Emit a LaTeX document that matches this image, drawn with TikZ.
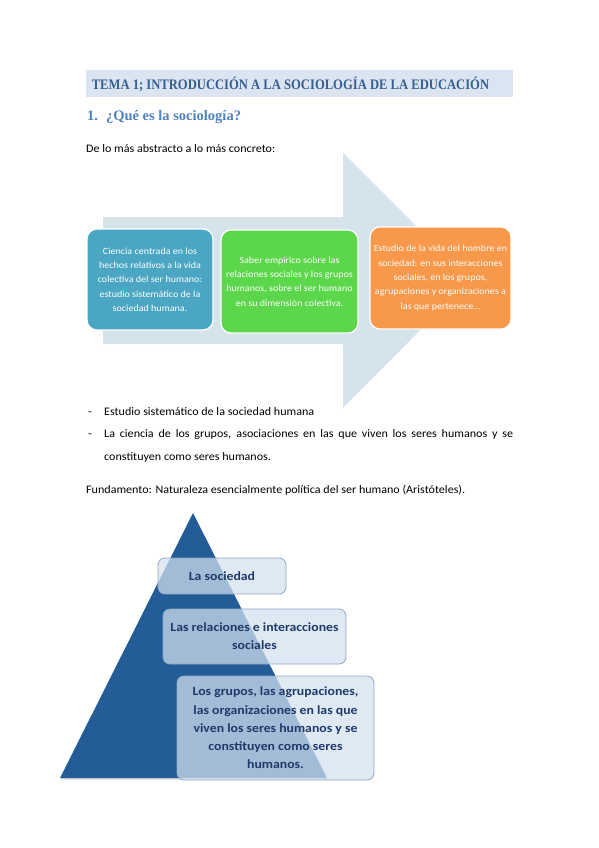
\documentclass[tikz,border=0pt]{standalone}
\usepackage{fontspec}
\setmainfont{Carlito}[FakeStretch=1.05]
\newfontfamily\flowfont{Carlito}[FakeStretch=1.07]
\newfontfamily\levelfont{Carlito}[FakeStretch=1.1]
\newfontfamily\headfont{Liberation Serif}
\usetikzlibrary{shadows}
\definecolor{titlebar}{HTML}{DBE5F1}
\definecolor{titletext}{HTML}{365F91}
\definecolor{headblue}{HTML}{4F81BD}
\definecolor{arrowfill}{HTML}{D5E3EB}
\definecolor{boxblue}{HTML}{4BA6C3}
\definecolor{boxgreen}{HTML}{5CD64A}
\definecolor{boxorange}{HTML}{F7984A}
\definecolor{pyr}{HTML}{245C98}
\definecolor{pyrbox}{HTML}{D3E1EF}
\definecolor{pyrline}{HTML}{8FA8C4}
\definecolor{pyrtext}{HTML}{1F3A6A}
\begin{document}
\begin{tikzpicture}[x=1pt,y=-1pt,
  body/.style={font=\fontsize{11.5}{13}\selectfont, inner sep=0pt, text=black},
  flowbox/.style={draw=white, line width=1.2pt, rounded corners=10pt, text=white, align=center,
    font=\flowfont\fontsize{9.4}{14.3}\selectfont, inner sep=0pt},
  levelbox/.style={draw=pyrline, line width=0.8pt, fill=pyrbox, fill opacity=0.72, text opacity=1,
    rounded corners=7pt, text=pyrtext, align=center, font=\levelfont\bfseries\fontsize{12.5}{18.3}\selectfont, inner sep=0pt}]
\useasboundingbox (0,0) rectangle (599,848);
\fill[white] (0,0) rectangle (599,848);

% title
\node[fill=titlebar, minimum width=427pt, minimum height=27pt, inner sep=0pt] (bar) at (299.5,83.5) {};
\node[text=titletext, inner sep=0pt] (title) at (290.5,84)
  {\scalebox{0.87}[1]{\headfont\fontsize{14.5}{16}\selectfont\bfseries TEMA 1; INTRODUCCIÓN A LA SOCIOLOGÍA DE LA EDUCACIÓN}};
\node[text=headblue, inner sep=0pt, anchor=base west] (head) at (87,121)
  {\headfont\fontsize{14.5}{16}\selectfont\bfseries 1.\hspace{8pt}¿Qué es la sociología?};
\node[body, anchor=base west] (intro) at (86,153) {De lo más abstracto a lo más concreto:};

% big arrow
\fill[arrowfill] (103,217) -- (343,217) -- (343,153) -- (470,280) -- (343,408) -- (343,344) -- (103,344) -- cycle;

% flow boxes
\node[flowbox, fill=boxblue, minimum width=126pt, minimum height=101pt] (b1) at (150,279.5)
  {Ciencia centrada en los\\hechos relativos a la vida\\colectiva del ser humano:\\estudio sistemático de la\\sociedad humana.};
\node[flowbox, fill=boxgreen, minimum width=137pt, minimum height=103pt] (b2) at (289.5,281.5)
  {Saber empírico sobre las\\relaciones sociales y los grupos\\humanos, sobre el ser humano\\en su dimensión colectiva.};
\node[flowbox, fill=boxorange, minimum width=141pt, minimum height=102pt] (b3) at (440.5,278)
  {Estudio de la vida del hombre en\\sociedad: en sus interacciones\\sociales, en los grupos,\\agrupaciones y organizaciones a\\las que pertenece…};

% bullets
\node[body, anchor=base west] (d1) at (88,415) {-};
\node[body, anchor=base west] (l1) at (104,415) {Estudio sistemático de la sociedad humana};
\node[body, anchor=base west] (d2) at (88,437) {-};
\node[body, anchor=base west] (l2) at (104,437)
  {\makebox[409pt][s]{La ciencia de los grupos, asociaciones en las que viven los seres humanos y se}};
\node[body, anchor=base west] (l3) at (104,460) {constituyen como seres humanos.};
\node[body, anchor=base west] (fund) at (86,493)
  {Fundamento: Naturaleza esencialmente política del ser humano (Aristóteles).};

% pyramid
\fill[pyr, drop shadow={opacity=0.3, shadow xshift=0.5pt, shadow yshift=-1.5pt}]
  (193,513) -- (327,778) -- (60,778) -- cycle;

\node[levelbox, minimum width=128pt, minimum height=36pt] (p1) at (222,576) {La sociedad};
\node[levelbox, minimum width=183pt, minimum height=55pt] (p2) at (254.5,636.5)
  {Las relaciones e interacciones\\sociales};
\node[levelbox, minimum width=197pt, minimum height=104pt] (p3) at (275.5,728)
  {Los grupos, las agrupaciones,\\las organizaciones en las que\\viven los seres humanos y se\\constituyen como seres\\humanos.};
\end{tikzpicture}
\end{document}
